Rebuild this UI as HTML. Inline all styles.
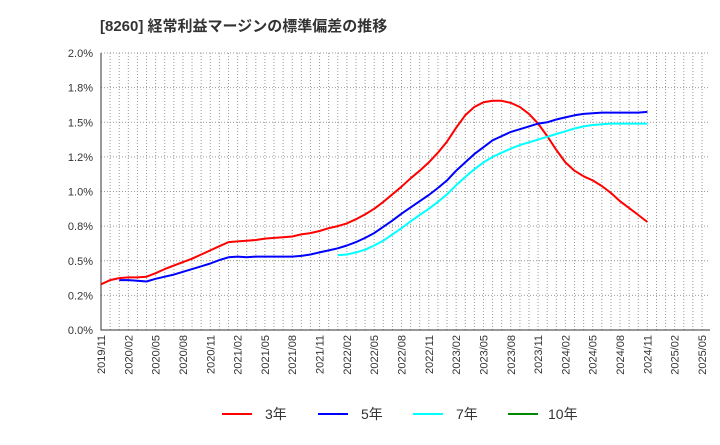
<!DOCTYPE html>
<html><head><meta charset="utf-8"><style>
body{margin:0;background:#fff;font-family:"Liberation Sans","Noto Sans CJK JP",sans-serif;}
svg text{font-family:"Liberation Sans","Noto Sans CJK JP",sans-serif;}
</style></head><body>
<svg id="c" width="720" height="440" xmlns="http://www.w3.org/2000/svg">
<text x="100" y="31" font-size="15" font-weight="bold" fill="#333">[8260]  経常利益マージンの標準偏差の推移</text>
<g id="grid"></g><g id="axes"></g><g id="series"></g>
<g font-size="14" fill="#333">
<line x1="222" y1="414" x2="252" y2="414" stroke="#f00" stroke-width="2"/><text x="265" y="419">3年</text>
<line x1="318" y1="414" x2="348" y2="414" stroke="#00f" stroke-width="2"/><text x="361" y="419">5年</text>
<line x1="413" y1="414" x2="443" y2="414" stroke="#0ff" stroke-width="2"/><text x="456" y="419">7年</text>
<line x1="508" y1="414" x2="538" y2="414" stroke="#080" stroke-width="2"/><text x="548" y="419">10年</text>
</g>
</svg>
<script>
const yTicks=[0,0.25,0.5,0.75,1.0,1.25,1.5,1.75,2.0];
const yTickLabels=["0.0%","0.2%","0.5%","0.8%","1.0%","1.2%","1.5%","1.8%","2.0%"];
const xStart=[2019,11];
const xMonths=66;
const s3Start=0;
const s3=[.33,.36,.375,.38,.38,.385,.41,.44,.465,.49,.515,.545,.575,.605,.635,.64,.645,.65,.66,.665,.67,.675,.69,.70,.715,.735,.75,.77,.8,.835,.875,.925,.98,1.035,1.095,1.15,1.21,1.28,1.36,1.46,1.55,1.61,1.645,1.655,1.655,1.64,1.61,1.56,1.49,1.40,1.30,1.21,1.15,1.11,1.08,1.04,.99,.93,.88,.83,.78];
const s5Start=2;
const s5=[.36,.36,.355,.35,.37,.385,.40,.42,.44,.46,.48,.505,.525,.53,.525,.53,.53,.53,.53,.53,.535,.545,.56,.575,.59,.61,.635,.665,.70,.745,.79,.84,.885,.93,.975,1.025,1.08,1.15,1.21,1.27,1.32,1.37,1.40,1.43,1.45,1.47,1.49,1.50,1.52,1.535,1.55,1.56,1.565,1.57,1.57,1.57,1.57,1.57,1.575];
const s7Start=26;
const s7=[.54,.545,.56,.58,.61,.645,.69,.735,.785,.83,.875,.925,.98,1.045,1.105,1.16,1.21,1.25,1.28,1.31,1.335,1.355,1.375,1.395,1.415,1.435,1.455,1.47,1.48,1.485,1.49,1.49,1.49,1.49,1.49];
const s10Start=0;
const s10=[];
const L=101,R=702,RF=710,T=53,B=330;
const x=i=>L+(R-L)*i/xMonths;
const y=v=>B-(B-T)*v/2.0;
const NS="http://www.w3.org/2000/svg";
function mk(tag,attrs,parent){const e=document.createElementNS(NS,tag);for(const k in attrs)e.setAttribute(k,attrs[k]);parent.appendChild(e);return e;}
const grid=document.getElementById('grid'),axes=document.getElementById('axes'),ser=document.getElementById('series');
for(let i=0;i<=xMonths;i++){const g=mk('line',{x1:x(i),x2:x(i),y1:T,y2:B,stroke:'#999','stroke-width':1,'stroke-dasharray':'1,2'},grid);

}
yTicks.forEach((v,k)=>{const g=mk('line',{x1:L,x2:RF,y1:y(v),y2:y(v),stroke:'#999','stroke-width':1,'stroke-dasharray':'1,2'},grid);


const t=mk('text',{x:L-8,y:y(v)+4,'text-anchor':'end','font-size':11,fill:'#333'},axes);
t.textContent=yTickLabels[k];

});
for(let i=0;i<=xMonths;i+=3){let m=xStart[1]-1+i;const yr=xStart[0]+Math.floor(m/12);m=m%12+1;
const t=mk('text',{transform:`translate(${x(i)+4},${B+5}) rotate(-90)`,'text-anchor':'end','font-size':11,fill:'#333'},axes);
t.textContent=yr+'/'+String(m).padStart(2,'0');

}
const ax=mk('path',{d:`M${L},${T}V${B}H${RF}`,fill:'none',stroke:'#333','stroke-width':1},axes);


function line(arr,start,color,name){if(!arr.length)return;const d=arr.map((v,i)=>(i?'L':'M')+x(start+i).toFixed(1)+','+y(v).toFixed(1)).join('');
const p=mk('path',{d:d,fill:'none',stroke:color,'stroke-width':2,'stroke-linejoin':'round'},ser);

}
line(s3,s3Start,'#f00','series-3y');
line(s5,s5Start,'#00f','series-5y');
line(s7,s7Start,'#0ff','series-7y');
line(s10,s10Start,'#080','series-10y');
</script>
</body></html>
